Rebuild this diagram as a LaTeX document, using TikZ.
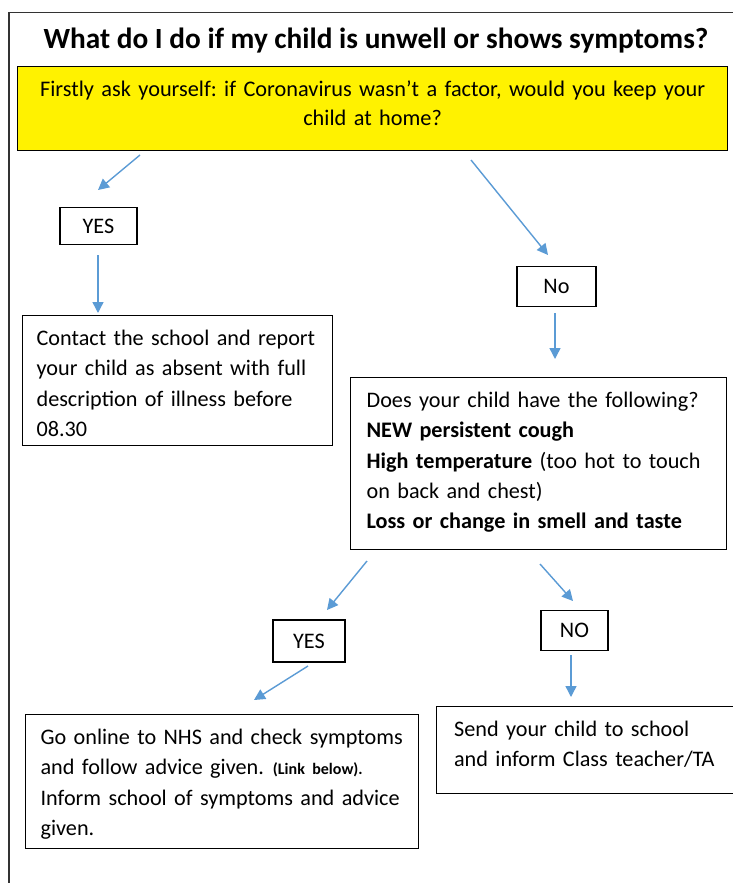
\documentclass[tikz,border=0pt]{standalone}
\usepackage{fontspec}
\setmainfont{Carlito}
\usetikzlibrary{arrows.meta}
\definecolor{arrblue}{HTML}{5B9BD5}
\definecolor{framegray}{HTML}{333333}
\frenchspacing
\begin{document}
\begin{tikzpicture}[x=1pt,y=-1pt,
  box/.style={draw=black, line width=1.2pt, inner ysep=0pt,
    font=\fontsize{22.2}{30.3}\selectfont},
  txtbox/.style={box, anchor=north west, align=left, text height=30pt,
    execute at begin node={\parindent=0pt\hyphenpenalty=10000\relax}},
  capbox/.style={box, inner sep=0pt},
  arr/.style={draw=arrblue, line width=1.4pt, -{Triangle[length=11pt,width=11pt]}},
]
\useasboundingbox (0,0) rectangle (733,883);
\fill[white] (0,0) rectangle (733,883);
\draw[line width=1.3pt, framegray] (9,883) -- (9,12.5) -- (733,12.5);

\node[font=\fontsize{29.3}{32}\selectfont\bfseries] (title) at (376,41)
  {What do I do if my child is unwell or shows symptoms?};

\node[box, fill=yellow, anchor=north west, text width=710pt,
  align=center, inner xsep=0pt, text height=30pt, text depth=54pt,
  font=\fontsize{22.3}{29}\selectfont] (q1) at (17,66)
  {\mbox{Firstly ask yourself: if Coronavirus wasn’t a factor, would you keep your}\\child at home?};

\node[capbox, minimum width=77pt, minimum height=37pt] (yes1) at (98.5,226) {YES};
\node[capbox, minimum width=79pt, minimum height=40pt] (no1) at (556.5,286.5) {No};

\node[txtbox, inner xsep=14pt, text width=282pt, text depth=100pt] (contact) at (22,315)
  {\mbox{Contact the school and report}\\\mbox{your child as absent with full}\\\mbox{description of illness before}\\08.30};

\node[txtbox, inner xsep=16pt, text width=344pt, text depth=142pt] (symp) at (350,377)
  {\mbox{Does your child have the following?}\\\mbox{\textbf{NEW persistent cough}}\\\mbox{\textbf{High temperature} (too hot to touch}\\\mbox{on back and chest)}\\\mbox{\textbf{Loss or change in smell and taste}}};

\node[capbox, minimum width=72pt, minimum height=42pt] (yes2) at (309,641) {YES};
\node[capbox, minimum width=67pt, minimum height=40pt] (no2) at (574.5,630.5) {NO};

\node[txtbox, inner xsep=15pt, text width=363pt, text depth=104pt] (online) at (25,714)
  {\mbox{Go online to NHS and check symptoms}\\\mbox{and follow advice given.\hspace{9pt}{\fontsize{16}{16}\selectfont\bfseries(Link below).}}\\\mbox{Inform school of symptoms and advice}\\given.};

\node[txtbox, inner xsep=16pt, text width=265pt, text depth=57pt, minimum width=300pt] (send) at (436,706)
  {\mbox{Send your child to school}\\\mbox{and inform Class teacher/TA}};

% connector end points
\coordinate (a1s) at (140,155);  \coordinate (a1e) at (98,190);
\coordinate (a2s) at (471,160);  \coordinate (a2e) at (548,255);
\coordinate (a3s) at (98,255);   \coordinate (a3e) at (98,313);
\coordinate (a4s) at (555,313);  \coordinate (a4e) at (555,359);
\coordinate (a5s) at (367,561);  \coordinate (a5e) at (327,610);
\coordinate (a6s) at (540,564);  \coordinate (a6e) at (573,601);
\coordinate (a7s) at (308,666);  \coordinate (a7e) at (254,700);
\coordinate (a8s) at (571,655);  \coordinate (a8e) at (571,697);

\draw[arr] (a1s) -- (a1e);
\draw[arr] (a2s) -- (a2e);
\draw[arr] (a3s) -- (a3e);
\draw[arr] (a4s) -- (a4e);
\draw[arr] (a5s) -- (a5e);
\draw[arr] (a6s) -- (a6e);
\draw[arr] (a7s) -- (a7e);
\draw[arr] (a8s) -- (a8e);
\end{tikzpicture}
\end{document}
